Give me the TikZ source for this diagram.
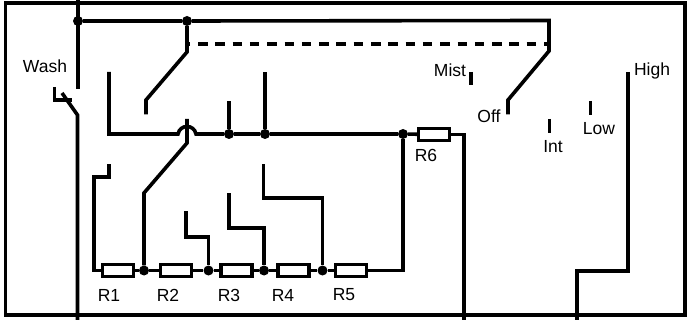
\documentclass[tikz,border=0pt]{standalone}
\usepackage{fontspec}
\setmainfont{Liberation Sans}
\usepackage{xcolor}
\usetikzlibrary{calc}
\tikzset{
  wire/.style={line width=3.6pt},
  frameline/.style={line width=3.2pt},
  link/.style={line width=3.6pt, dash pattern=on 9.5pt off 7.8pt, dash phase=6.3pt},
  resistor/.style={draw, line width=3.2pt, fill=white, minimum width=31pt, minimum height=12pt, inner sep=0pt},
  junction/.style={circle, fill=black, minimum size=10pt, inner sep=0pt},
  tag/.style={inner sep=0pt, font=\fontsize{17.5}{20}\selectfont}
}

\begin{document}
\begin{tikzpicture}[x=1pt, y=-1pt]
\useasboundingbox (0,0) rectangle (687,320);
% outer box
\draw[frameline] (5.5,3) rectangle (685,315);

% feed and the two ganged arms
\node[junction] (F1) at (78,21) {};
\node[junction] (F2) at (187,21) {};
\coordinate (FR) at (549,20.5);
\coordinate (T) at (78,0);
\coordinate (WU) at (78,89);
\draw[wire] (T) -- (WU);
\draw[wire] (F1) -- (F2) -- (FR) -- (549,51) -- (508,100) -- (508,114.5);
\draw[wire] (F2) -- (187,52) -- (146,100) -- (146,114.5);
\draw[link] (F2 |- 0,44) -- (549,44);

% wash switch
\draw[wire] (54.5,87) -- (54.5,100) -- (72,100);
\draw[wire] (62,93) -- (77.5,115) -- (77.5,320);

% contact bus
\node[junction] (B1) at (229,134) {};
\node[junction] (B2) at (265,134) {};
\node[junction] (B3) at (403,134) {};
\node[resistor] (R6) at (434,134.5) {};
\draw[wire] (109,72) -- (109,134) -- (178,134) .. controls (180,124) and (194,124) .. (196,134) -- (B1) -- (B2) -- (B3) -- (R6);
\draw[wire] (B1) -- (229,101);
\draw[wire] (B2) -- (265,72);
\draw[wire] (R6) -- (464,134.5) -- (464,320);

% resistor chain
\node[resistor] (R1) at (118,270.5) {};
\node[resistor] (R2) at (176,270.5) {};
\node[resistor] (R3) at (236.5,270.5) {};
\node[resistor] (R4) at (293.5,270.5) {};
\node[resistor] (R5) at (351,270.5) {};
\node[junction] (J1) at (144,270.5) {};
\node[junction] (J2) at (208.5,270.5) {};
\node[junction] (J3) at (264,270.5) {};
\node[junction] (J4) at (322.5,270.5) {};
\draw[wire] (R1) -- (J1) -- (R2) -- (J2) -- (R3) -- (J3) -- (R4) -- (J4) -- (R5);
\draw[wire] (R5) -- (403,270.5) -- (B3);
\draw[wire] (R1) -- (94,270.5) -- (94,177) -- (109,177) -- (109,164);
\draw[wire] (J1) -- (144,193) -- (187,143) -- (187,119);
\draw[wire] (J2) -- (208.5,237) -- (186,237) -- (186,211);
\draw[wire] (J3) -- (264,228) -- (229,228) -- (229,193);
\draw[wire] (J4) -- (322.5,198) -- (263.5,198) -- (263.5,164);

% fan speed contacts
\draw[wire] (471,72) -- (471,85);
\draw[wire] (549.5,119) -- (549.5,133);
\draw[wire] (590.5,101) -- (590.5,115);
\draw[wire] (628,72) -- (628,271) -- (577,271) -- (577,320);

% labels
\node[tag] (lblWash) at (45,66) {Wash};
\node[tag] (lblMist) at (450,70) {Mist};
\node[tag] (lblOff) at (489,116) {Off};
\node[tag] (lblInt) at (553,147) {Int};
\node[tag] (lblLow) at (599,129) {Low};
\node[tag] (lblHigh) at (652,71) {High};
\node[tag] (lblR1) at (109,295) {R1};
\node[tag] (lblR2) at (168,295) {R2};
\node[tag] (lblR3) at (229,295) {R3};
\node[tag] (lblR4) at (283,295) {R4};
\node[tag] (lblR5) at (344,295) {R5};
\node[tag] (lblR6) at (426,155) {R6};
\end{tikzpicture}
\end{document}
